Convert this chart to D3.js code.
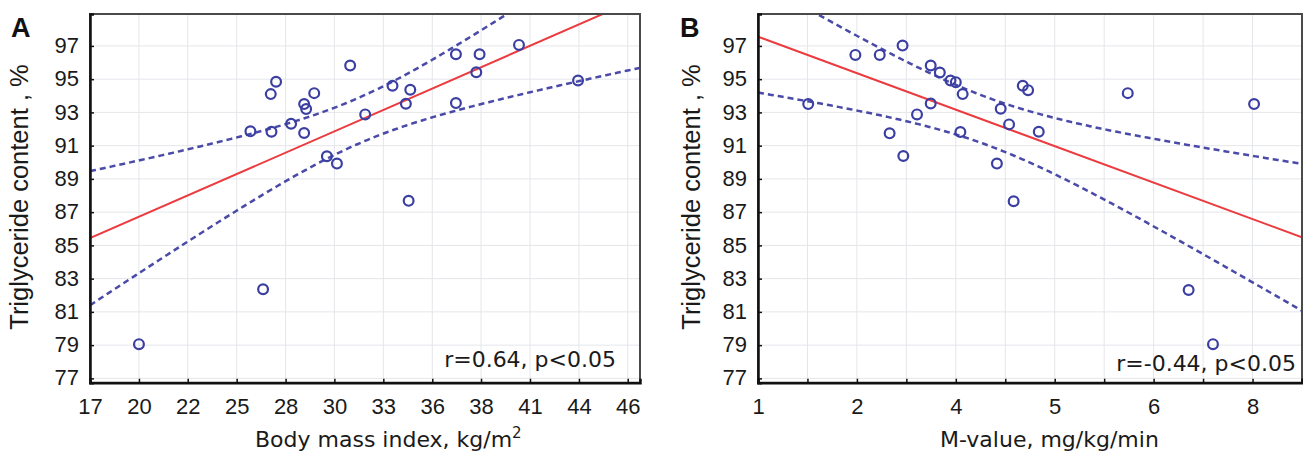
<!DOCTYPE html>
<html>
<head>
<meta charset="utf-8">
<style>
	body { margin: 0; background: white; }
	.grid line { stroke: #e4e6ea; stroke-width: 1; }
	.tick-label { font-family: "Liberation Sans", Arial, sans-serif; font-size: 22px; fill: #1a1a1a; }
	.axis-title { font-family: "DejaVu Sans", Verdana, sans-serif; font-size: 22px; fill: #1a1a1a; }
	.y-title { font-family: "Liberation Sans", Arial, sans-serif; font-size: 25.5px; fill: #1a1a1a; }
	.panel-label { font-family: "Liberation Sans", Arial, sans-serif; font-size: 27px; font-weight: bold; fill: #111; }
	.stat { font-family: "DejaVu Sans", Verdana, sans-serif; font-size: 22px; fill: #1a1a1a; }
	.fit { fill: none; stroke: #ec3b3f; stroke-width: 2; }
	.band { fill: none; stroke: #4a4aa8; stroke-width: 2.5; stroke-dasharray: 6,4; }
	.dot { fill: none; stroke: #3b3fa2; stroke-width: 2.2; }
</style>
</head>
<body>
<svg width="1303" height="455"></svg>

<script src="https://cdnjs.cloudflare.com/ajax/libs/d3/7.8.5/d3.min.js"></script>
<script>
// panel A: body mass index vs triglyceride content
var bmi = [19.67, 26.44, 25.75, 26.86, 27.15, 26.9, 27.97, 28.68, 28.79, 28.68, 29.23, 29.92, 30.47,
	31.19, 32.01, 33.5, 34.23, 34.47, 34.38, 36.96, 36.96, 38.25, 38.07, 40.4, 43.62];
var tgA = [79.06, 82.36, 91.86, 94.1, 94.84, 91.84, 92.32, 93.5, 93.2, 91.76, 94.16, 90.36, 89.92,
	95.82, 92.88, 94.6, 93.52, 94.36, 87.68, 96.5, 93.56, 96.5, 95.42, 97.06, 94.92];

// panel B: M-value vs triglyceride content
var mValue = [1.66, 2.28, 2.6, 2.9, 2.73, 2.91, 3.09, 3.27, 3.27, 3.39, 3.53, 3.6, 3.69, 3.66,
	4.14, 4.19, 4.3, 4.36, 4.48, 4.55, 4.69, 5.86, 7.52, 6.66, 6.98];
var tgB = [93.5, 96.46, 96.46, 97.02, 91.74, 90.38, 92.88, 95.82, 93.54, 95.4, 94.92, 94.82, 94.1, 91.82,
	89.92, 93.22, 92.28, 87.66, 94.6, 94.34, 91.84, 94.16, 93.5, 82.32, 79.06];

var yTicks = [77, 79, 81, 83, 85, 87, 89, 91, 93, 95, 97];

var xTicksA = [17, 19.67, 22.33, 25, 27.67, 30.33, 33, 35.67, 38.33, 41, 43.67, 46.33];
var xLabelsA = ["17", "20", "22", "25", "28", "30", "33", "36", "38", "41", "44", "46"];

var xTicksB = [1, 1.65, 2.3, 2.95, 3.6, 4.25, 4.9, 5.55, 6.2, 6.85, 7.5, 8.15];
var xLabelsB = ["1", "", "2", "", "4", "", "5", "", "6", "", "8", ""];

var svg = d3.select("svg");

// least squares fit + 95% confidence band for the mean
function fitLine(xs, ys) {
	var n = xs.length;
	var mx = d3.mean(xs), my = d3.mean(ys);
	var sxx = d3.sum(xs, function(x) { return (x - mx) * (x - mx); });
	var sxy = d3.sum(xs, function(x, i) { return (x - mx) * (ys[i] - my); });
	var b = sxy / sxx, a = my - b * mx;
	var sse = d3.sum(xs, function(x, i) { var r = ys[i] - (a + b * x); return r * r; });
	var s = Math.sqrt(sse / (n - 2));
	var t = 2.069; // t(0.975, 23)
	return {
		y: function(x) { return a + b * x; },
		half: function(x) { return t * s * Math.sqrt(1 / n + (x - mx) * (x - mx) / sxx); }
	};
}

function drawPanel(p) {
	var x = d3.scaleLinear().domain(p.xDomain).range([p.left, p.right]);
	var y = d3.scaleLinear().domain([76.74, 98.92]).range([382.7, 14]);

	var g = svg.append("g");

	g.append("clipPath").attr("id", "clip" + p.name)
		.append("rect")
			.attr("x", p.left).attr("y", 14)
			.attr("width", p.right - p.left).attr("height", 382.7 - 14);

	// grid
	var grid = g.append("g").attr("class", "grid");
	grid.selectAll(".gx")
		.data(p.xTicks)
		.enter()
		.append("line")
			.attr("x1", function(d) { return x(d); })
			.attr("x2", function(d) { return x(d); })
			.attr("y1", 14).attr("y2", 382.7);
	grid.selectAll(".gy")
		.data(yTicks)
		.enter()
		.append("line")
			.attr("x1", p.left).attr("x2", p.right)
			.attr("y1", function(d) { return y(d); })
			.attr("y2", function(d) { return y(d); });

	// fit + band
	var f = fitLine(p.xs, p.ys);
	var samples = d3.range(0, 201).map(function(i) {
		return p.xDomain[0] + (p.xDomain[1] - p.xDomain[0]) * i / 200;
	});
	var plot = g.append("g").attr("clip-path", "url(#clip" + p.name + ")");

	plot.append("path")
		.attr("class", "band")
		.attr("d", d3.line().x(function(d) { return x(d); }).y(function(d) { return y(f.y(d) + f.half(d)); })(samples));
	plot.append("path")
		.attr("class", "band")
		.attr("d", d3.line().x(function(d) { return x(d); }).y(function(d) { return y(f.y(d) - f.half(d)); })(samples));
	plot.append("path")
		.attr("class", "fit")
		.attr("d", d3.line().x(function(d) { return x(d); }).y(function(d) { return y(f.y(d)); })(p.xDomain));

	plot.selectAll(".dot")
		.data(p.xs)
		.enter()
		.append("circle")
			.attr("class", "dot")
			.attr("cx", function(d) { return x(d); })
			.attr("cy", function(d, i) { return y(p.ys[i]); })
			.attr("r", 4.9);

	// frame
	g.append("rect")
		.attr("x", p.left).attr("y", 14)
		.attr("width", p.right - p.left).attr("height", 382.7 - 14)
		.attr("fill", "none").attr("stroke", "#4a4a4a").attr("stroke-width", 2);

	// axes (ticks point inward)
	var xAxis = d3.axisBottom(x).tickValues(p.xTicks).tickSize(-4)
		.tickFormat(function(d, i) { return p.xLabels[i]; });
	var ax = g.append("g").attr("transform", "translate(0,382.7)").call(xAxis);
	ax.select(".domain").attr("stroke", "#111").attr("stroke-width", 2.5);
	ax.selectAll(".tick line").attr("stroke", "#111").attr("stroke-width", 1.5);
	ax.selectAll(".tick text").attr("class", "tick-label").attr("y", 31).attr("dy", 0);

	var yAxis = d3.axisLeft(y).tickValues(yTicks).tickSize(-4);
	var ay = g.append("g").attr("transform", "translate(" + p.left + ",0)").call(yAxis);
	ay.select(".domain").attr("stroke", "#111").attr("stroke-width", 2.5);
	ay.selectAll(".tick line").attr("stroke", "#111").attr("stroke-width", 1.5);
	ay.selectAll(".tick text").attr("class", "tick-label").attr("x", -11).attr("dy", "0.3em");
	ax.attr("font-family", null).attr("font-size", null);
	ay.attr("font-family", null).attr("font-size", null);

	// texts
	g.append("text").attr("class", "panel-label")
		.attr("x", p.labelX).attr("y", 37).text(p.name);

	g.append("text").attr("class", "y-title")
		.attr("transform", "translate(" + p.yTitleX + "," + 197 + ") rotate(-90)")
		.attr("text-anchor", "middle")
		.text("Triglyceride content , %");

	var xt = g.append("text").attr("class", "axis-title")
		.attr("x", p.xTitleX).attr("y", 447);
	xt.append("tspan").text(p.xTitle);
	if (p.sup) {
		xt.append("tspan").attr("font-size", 15).attr("dy", -9).text(p.sup);
	}

	g.append("text").attr("class", "stat")
		.attr("x", p.statX).attr("y", p.statY)
		.attr("text-anchor", "end")
		.text(p.stat);
}

drawPanel({
	name: "A", left: 90, right: 640, xDomain: [17, 47],
	xs: bmi, ys: tgA, xTicks: xTicksA, xLabels: xLabelsA,
	labelX: 11, yTitleX: 28, xTitleX: 255, xTitle: "Body mass index, kg/m", sup: "2",
	stat: "r=0.64, p<0.05", statX: 616, statY: 367
});

drawPanel({
	name: "B", left: 758, right: 1302, xDomain: [1, 8.15],
	xs: mValue, ys: tgB, xTicks: xTicksB, xLabels: xLabelsB,
	labelX: 680, yTitleX: 700, xTitleX: 940, xTitle: "M-value, mg/kg/min", sup: null,
	stat: "r=-0.44, p<0.05", statX: 1296, statY: 371
});
</script>
</body>
</html>
